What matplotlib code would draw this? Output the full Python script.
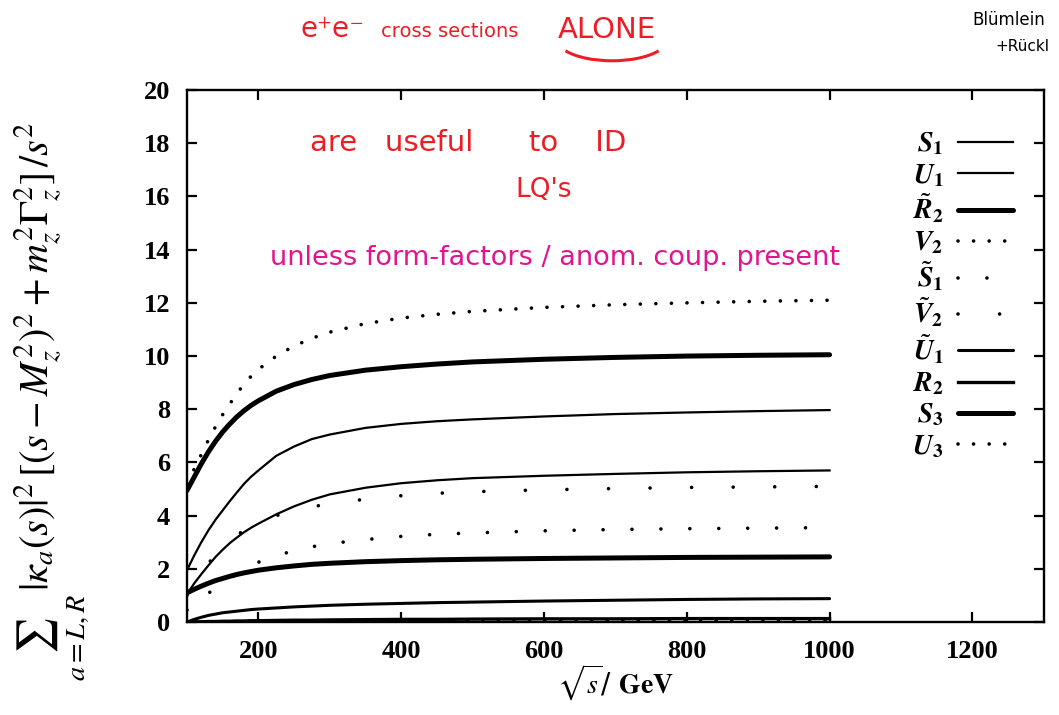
import matplotlib
matplotlib.use("Agg")
import matplotlib.pyplot as plt
from matplotlib.patches import Arc

# === data ===
sqrt_s = [100, 110, 120, 130, 140, 150, 160, 170, 180, 190, 200, 225, 250, 275, 300,
          350, 400, 450, 500, 600, 700, 800, 900, 1000]

S1 = [1.05, 1.45, 1.8, 2.13, 2.45, 2.72, 2.97, 3.18, 3.38, 3.55, 3.7, 4.05, 4.35, 4.6, 4.8,
      5.05, 5.22, 5.33, 5.41, 5.5, 5.57, 5.63, 5.67, 5.7]
U1 = [1.95, 2.5, 3.0, 3.45, 3.85, 4.2, 4.55, 4.88, 5.2, 5.47, 5.7, 6.25, 6.6, 6.88, 7.05,
      7.3, 7.45, 7.55, 7.62, 7.73, 7.82, 7.88, 7.93, 7.97]
R2t = [4.95, 5.45, 5.95, 6.4, 6.8, 7.15, 7.45, 7.72, 7.95, 8.15, 8.32, 8.68, 8.93, 9.12, 9.27,
       9.47, 9.6, 9.7, 9.78, 9.88, 9.95, 10.0, 10.03, 10.05]
V2 = [5.2, 5.75, 6.3, 6.85, 7.35, 7.8, 8.2, 8.6, 8.95, 9.25, 9.5, 10.0, 10.38, 10.67, 10.9,
      11.22, 11.43, 11.57, 11.68, 11.83, 11.93, 12.0, 12.06, 12.1]
S1t = [0.45, 0.65, 0.85, 1.08, 1.3, 1.48, 1.65, 1.8, 1.95, 2.1, 2.25, 2.5, 2.68, 2.83, 2.95,
       3.1, 3.22, 3.3, 3.35, 3.43, 3.48, 3.51, 3.53, 3.55]
V2t = [1.0, 1.45, 1.85, 2.2, 2.55, 2.82, 3.05, 3.27, 3.45, 3.62, 3.75, 4.0, 4.2, 4.33, 4.45,
       4.62, 4.75, 4.84, 4.9, 4.97, 5.02, 5.06, 5.08, 5.1]
U1t = [0.0, 0.1, 0.18, 0.25, 0.3, 0.35, 0.38, 0.41, 0.44, 0.47, 0.49, 0.53, 0.57, 0.6, 0.63,
       0.67, 0.7, 0.73, 0.75, 0.79, 0.82, 0.85, 0.87, 0.88]
R2 = [0.0, 0.01, 0.01, 0.02, 0.02, 0.03, 0.03, 0.04, 0.04, 0.05, 0.05, 0.06, 0.07, 0.07, 0.08,
      0.09, 0.1, 0.1, 0.11, 0.12, 0.12, 0.13, 0.13, 0.13]
S3 = [1.1, 1.23, 1.35, 1.46, 1.56, 1.64, 1.72, 1.79, 1.85, 1.9, 1.95, 2.04, 2.11, 2.17, 2.21,
      2.27, 2.31, 2.34, 2.36, 2.39, 2.41, 2.43, 2.44, 2.45]
U3 = [0.0, 0.0, 0.01, 0.01, 0.01, 0.02, 0.02, 0.02, 0.02, 0.03, 0.03, 0.03, 0.04, 0.04, 0.04,
      0.05, 0.05, 0.05, 0.06, 0.06, 0.06, 0.07, 0.07, 0.07]

x_ticks = [200, 400, 600, 800, 1000, 1200]
y_ticks = [0, 2, 4, 6, 8, 10, 12, 14, 16, 18, 20]

plt.rcParams['mathtext.fontset'] = 'stix'

red = '#ee1c24'
magenta = '#e0158f'

fig = plt.figure(figsize=(10.59, 7.15), dpi=100, facecolor='white')
ax = fig.add_axes([0.1766, 0.130, 0.809, 0.744])

dense = (0, (0.01, 4.3))
sparse1 = (0, (0.01, 8.0))
sparse2 = (0, (0.01, 11.5))

# curves, in the order of the legend
ax.plot(sqrt_s, S1, color='black', lw=1.6, label=r'$\mathbfit{S}_{\mathbf{1}}$')
ax.plot(sqrt_s, U1, color='black', lw=1.6, label=r'$\mathbfit{U}_{\mathbf{1}}$')
ax.plot(sqrt_s, R2t, color='black', lw=3.6, solid_capstyle='round', label=r'$\tilde{\mathbfit{R}}_{\mathbf{2}}$')
ax.plot(sqrt_s, V2, color='black', lw=2.6, ls=dense, dash_capstyle='round', label=r'$\mathbfit{V}_{\mathbf{2}}$')
ax.plot(sqrt_s, S1t, color='black', lw=2.6, ls=sparse1, dash_capstyle='round', label=r'$\tilde{\mathbfit{S}}_{\mathbf{1}}$')
ax.plot(sqrt_s, V2t, color='black', lw=2.6, ls=sparse2, dash_capstyle='round', label=r'$\tilde{\mathbfit{V}}_{\mathbf{2}}$')
ax.plot(sqrt_s, U1t, color='black', lw=2.2, solid_capstyle='round', label=r'$\tilde{\mathbfit{U}}_{\mathbf{1}}$')
ax.plot(sqrt_s, R2, color='black', lw=2.4, label=r'$\mathbfit{R}_{\mathbf{2}}$')
ax.plot(sqrt_s, S3, color='black', lw=3.6, solid_capstyle='round', label=r'$\mathbfit{S}_{\mathbf{3}}$')
ax.plot(sqrt_s, U3, color='black', lw=2.6, ls=dense, dash_capstyle='round', label=r'$\mathbfit{U}_{\mathbf{3}}$')

ax.set_xlim(100, 1300)
ax.set_ylim(0, 20)
ax.set_xticks(x_ticks)
ax.set_yticks(y_ticks)
ax.tick_params(direction='in', length=7, width=1.6, top=True, right=True, labelsize=19)
ax.tick_params(axis='y', pad=12)
ax.tick_params(axis='x', pad=13)
for lab in ax.get_xticklabels() + ax.get_yticklabels():
    lab.set_fontfamily('Liberation Serif')
    lab.set_fontweight('bold')
for spine in ax.spines.values():
    spine.set_linewidth(1.7)

# legend: names left of the line samples
ax.legend(loc='upper right', bbox_to_anchor=(0.987, 0.962), frameon=False, markerfirst=False,
          fontsize=20, handlelength=2.0, handletextpad=0.5, labelspacing=0.12, borderaxespad=0.3)

# axis labels
ax.set_xlabel(r'$\sqrt{s}$/ $\mathbf{GeV}$', fontsize=20, labelpad=0)
fig.text(0.05, 0.438, r'$\sum_{a=L,R}\,|\kappa_a(s)|^2\,[(s-M_z^2)^2+m_z^2\Gamma_z^2]\,/s^2$',
         rotation=90, ha='center', va='center', fontsize=29)

# handwritten notes
fig.text(0.283, 0.958, r'e$^{+}$e$^{-}$', color=red, fontsize=20, fontfamily='DejaVu Sans', va='center')
fig.text(0.36, 0.956, 'cross sections', color=red, fontsize=14, fontfamily='DejaVu Sans', va='center')
fig.text(0.527, 0.958, 'ALONE', color=red, fontsize=21, fontfamily='DejaVu Sans', va='center')
fig.patches.append(Arc((0.578, 0.945), 0.104, 0.06, theta1=200, theta2=340, color=red, lw=2.2,
                       transform=fig.transFigure, figure=fig))
fig.text(0.953, 0.972, 'Blümlein', color='black', fontsize=12, fontfamily='DejaVu Sans', va='center', ha='center')
fig.text(0.965, 0.935, '+Rückl', color='black', fontsize=11, fontfamily='DejaVu Sans', va='center', ha='center')

ax.text(0.1435, 0.9, 'are   useful      to    ID', transform=ax.transAxes, color=red, fontsize=21,
        fontfamily='DejaVu Sans', va='center')
ax.text(0.383, 0.812, "LQ's", transform=ax.transAxes, color=red, fontsize=19,
        fontfamily='DejaVu Sans', va='center')
ax.text(0.097, 0.684, 'unless form-factors / anom. coup. present', transform=ax.transAxes, color=magenta,
        fontsize=19.5, fontfamily='DejaVu Sans', va='center')

plt.savefig('out.png', dpi=100, facecolor='white')
